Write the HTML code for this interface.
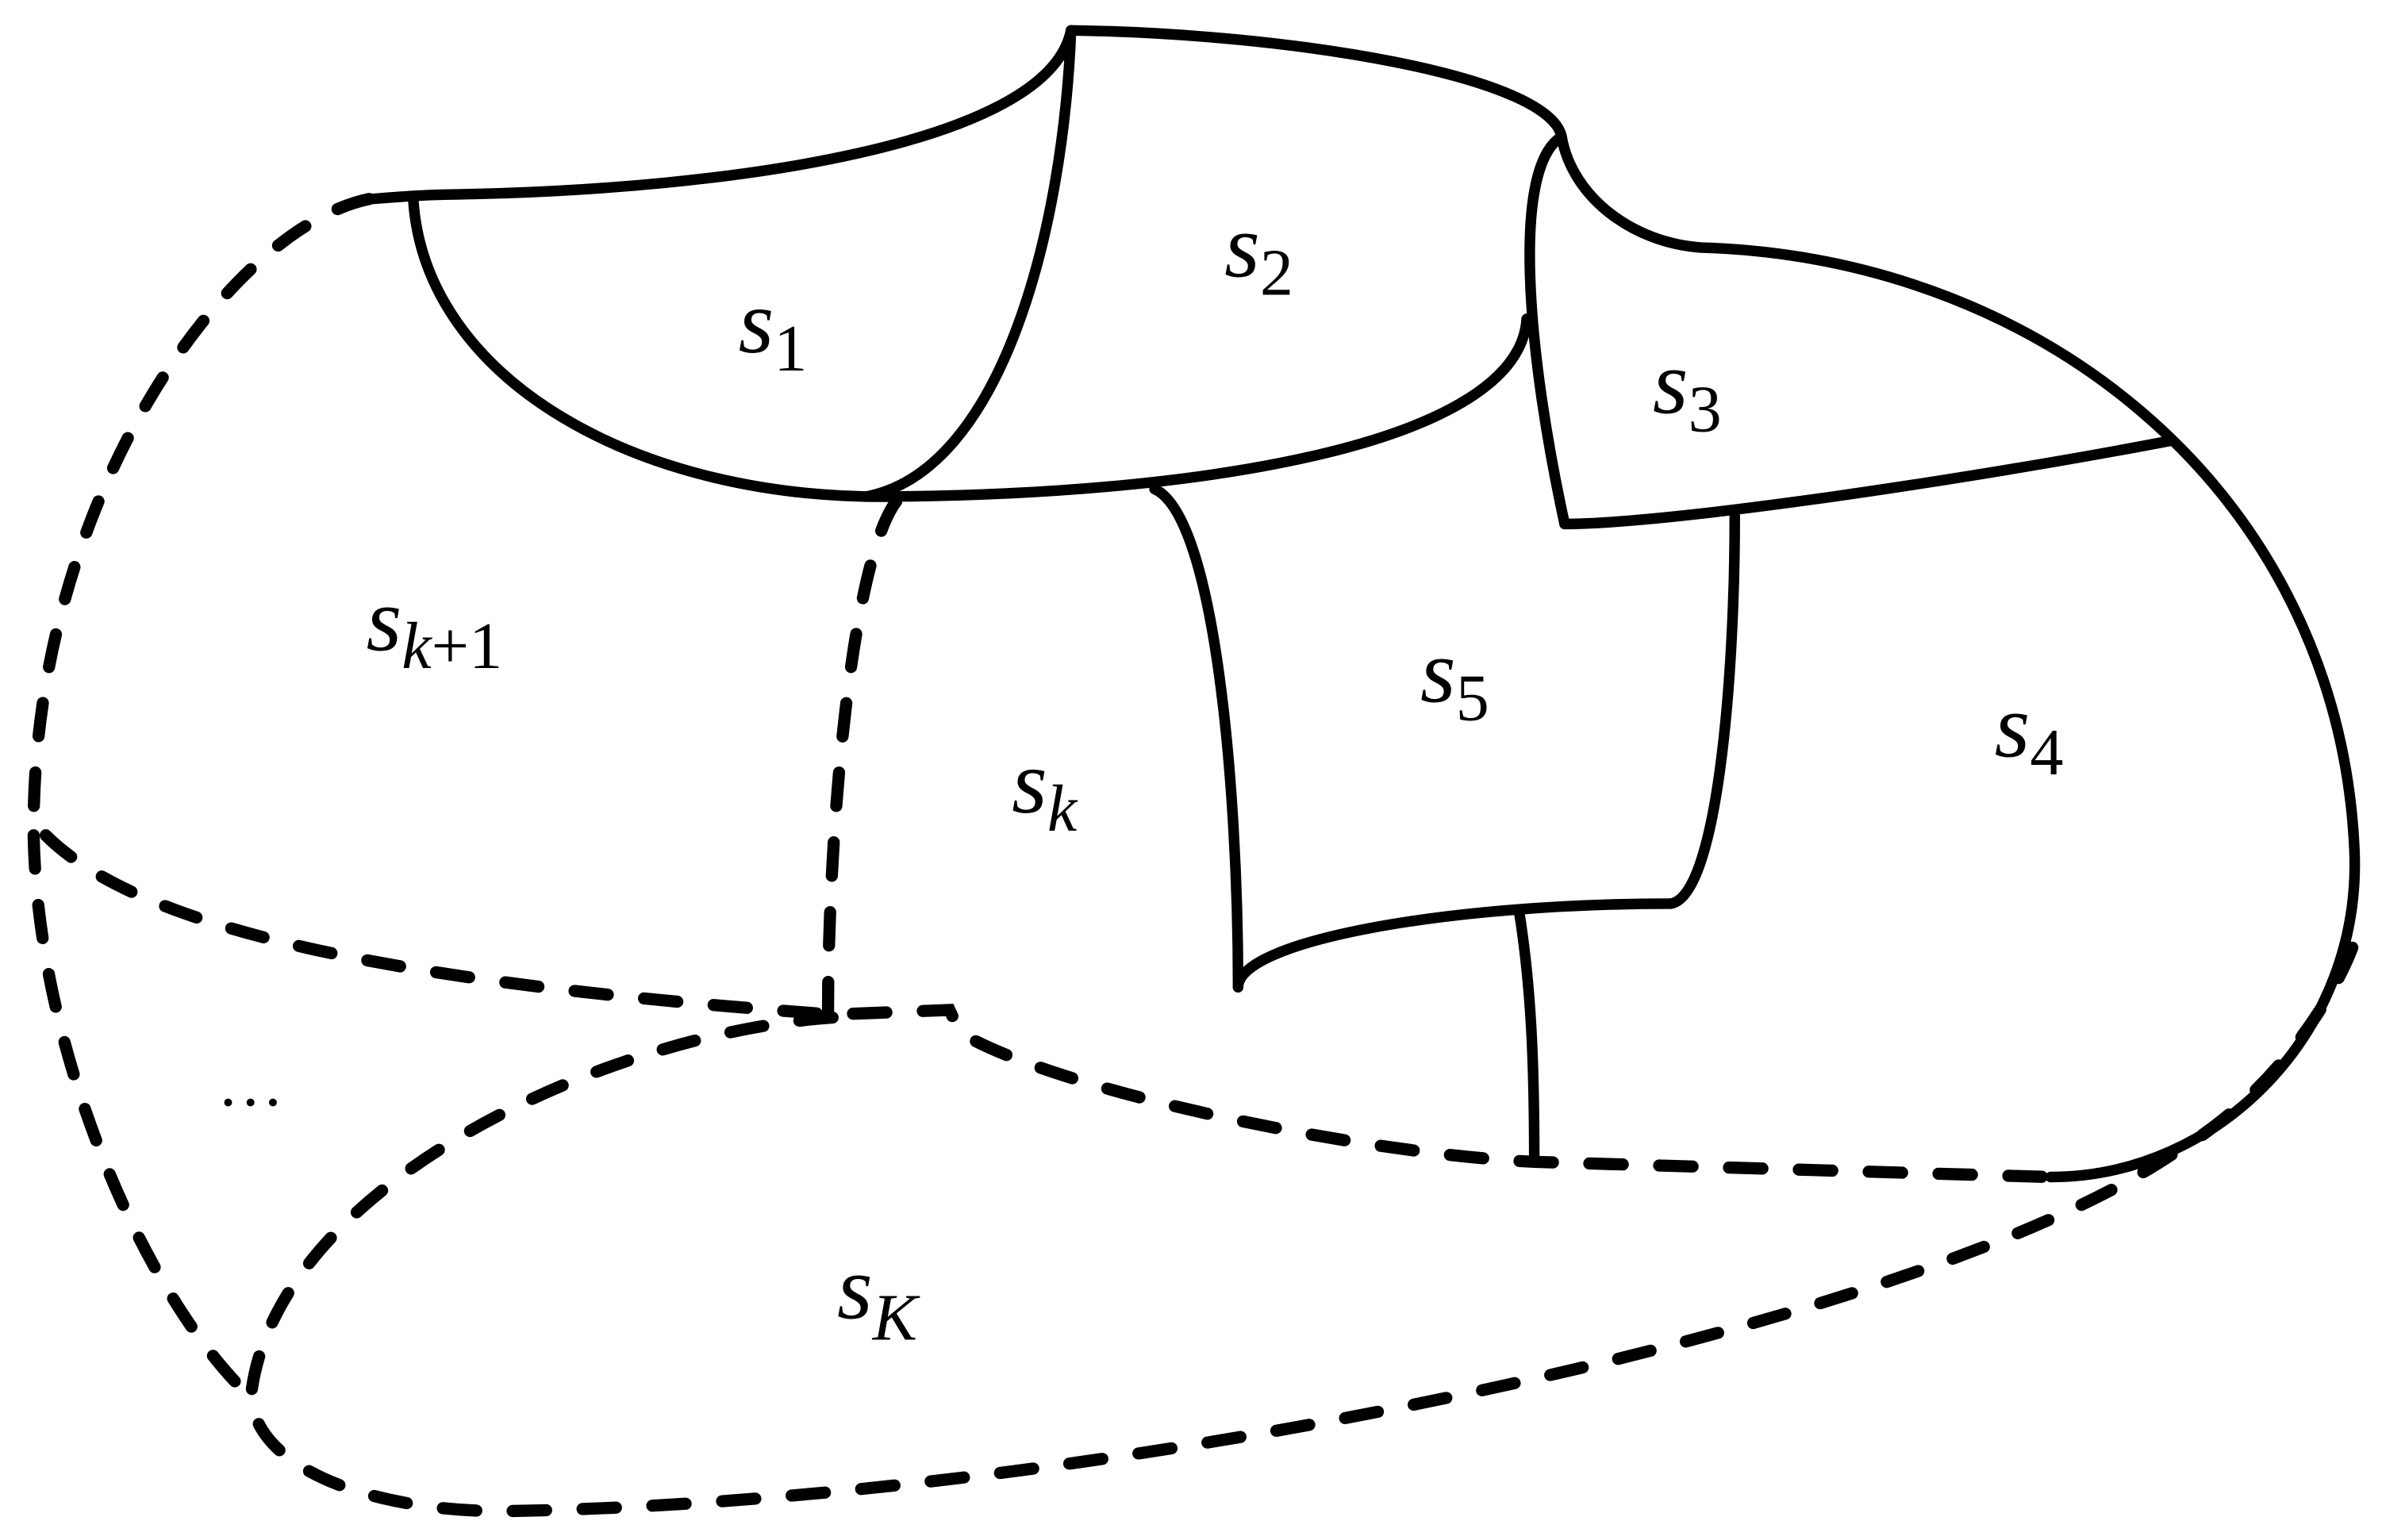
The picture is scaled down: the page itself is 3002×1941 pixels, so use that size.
<!DOCTYPE html>
<html><head><meta charset="utf-8"><style>
html,body{margin:0;padding:0;background:#fff;}
svg{display:block;}
text{font-family:"Liberation Serif","Times New Roman",serif;font-style:italic;fill:#000;}
</style></head><body>
<svg width="3002" height="1941" viewBox="0 0 1568 1014" xmlns="http://www.w3.org/2000/svg">
<g fill="none" stroke="#000" stroke-width="7" stroke-linecap="round" stroke-linejoin="round">
<path d="M245,131 C280,128 300,128 300,128 C480,125 690,95 705,20"/>
<path d="M272,132 C280,250 420,330 590,327"/>
<path d="M705,20 C700,150 660,310 570,327"/>
<path d="M705,20 C850,22 1020,50 1028,90"/>
<path d="M570,327 C800,327 1000,290 1005,210"/>
<path d="M1028,90 C995,110 1005,230 1030,345"/>
<path d="M1028,90 C1035,130 1075,160 1120,163 C1350,170 1540,330 1550,560 C1555,680 1460,775 1350,775"/>
<path d="M1030,345 C1100,345 1300,315 1430,290"/>
<path d="M1142,340 C1142,450 1130,590 1100,595"/>
<path d="M1100,595 C950,595 815,620 815,650"/>
<path d="M760,322 C800,340 815,520 815,650"/>
<path d="M1000,600 C1008,650 1010,700 1010,765"/>
</g>
<g fill="none" stroke="#000" stroke-width="8" stroke-linecap="round" stroke-dasharray="22,24">
<path d="M243,131 C150,150 20,330 22,550"/>
<path d="M22,550 C25,700 100,860 165,920"/>
<path d="M30,550 C100,620 300,650 548,668 L625,665 L632,680 C700,720 900,760 1010,765 L1350,775"/>
<path d="M590,330 C560,370 545,550 545,668"/>
<path d="M548,670 C400,680 180,780 165,920 C170,970 250,995 330,995 C700,990 1250,880 1430,760 C1500,720 1540,650 1550,620"/>
</g>
<g font-size="60">
<text x="486" y="232">s<tspan font-style="normal" font-size="44" dy="12">1</tspan></text>
<text x="806" y="182">s<tspan font-style="normal" font-size="44" dy="12">2</tspan></text>
<text x="1088" y="272">s<tspan font-style="normal" font-size="44" dy="12">3</tspan></text>
<text x="1313" y="498">s<tspan font-style="normal" font-size="44" dy="12">4</tspan></text>
<text x="935" y="462">s<tspan font-style="normal" font-size="44" dy="12">5</tspan></text>
<text x="666" y="535">s<tspan font-size="44" dy="12">k</tspan></text>
<text x="241" y="428">s<tspan font-size="44" dy="12">k</tspan><tspan font-style="normal" font-size="44">+1</tspan></text>
<text x="551" y="868">s<tspan font-size="44" dy="14">K</tspan></text>
<text x="146" y="728" font-style="normal" font-size="44">…</text>
</g>
</svg>
</body></html>
